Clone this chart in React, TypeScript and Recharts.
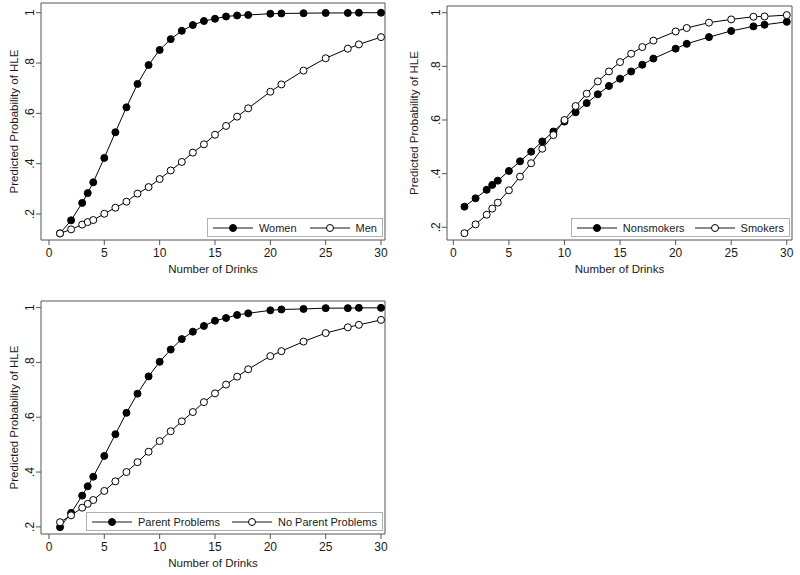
import React from 'react';
import {
  LineChart,
  Line,
  XAxis,
  YAxis,
  ReferenceArea,
  Legend,
  Label,
} from 'recharts';

// x positions shared by all three panels
const drinks = [1, 2, 3, 3.5, 4, 5, 6, 7, 8, 9, 10, 11, 12, 13, 14, 15, 16, 17, 18, 20, 21, 23, 25, 27, 28, 30];

const women = [0.123, 0.175, 0.244, 0.283, 0.326, 0.423, 0.525, 0.624, 0.717, 0.792, 0.852, 0.895, 0.928, 0.951, 0.967, 0.976, 0.985, 0.989, 0.991, 0.996, 0.997, 0.998, 0.999, 0.999, 1.0, 1.0];
const men = [0.123, 0.139, 0.158, 0.168, 0.176, 0.201, 0.225, 0.249, 0.281, 0.307, 0.339, 0.373, 0.407, 0.444, 0.477, 0.515, 0.55, 0.587, 0.62, 0.686, 0.715, 0.77, 0.819, 0.857, 0.874, 0.903];

const nonsmokers = [0.277, 0.308, 0.34, 0.358, 0.374, 0.41, 0.446, 0.482, 0.52, 0.557, 0.594, 0.629, 0.663, 0.696, 0.727, 0.754, 0.781, 0.806, 0.829, 0.866, 0.884, 0.909, 0.932, 0.949, 0.955, 0.966];
const smokers = [0.178, 0.211, 0.247, 0.27, 0.292, 0.338, 0.389, 0.439, 0.493, 0.544, 0.6, 0.652, 0.698, 0.744, 0.781, 0.816, 0.847, 0.872, 0.896, 0.93, 0.943, 0.963, 0.975, 0.985, 0.986, 0.991];

const parentProblems = [0.199, 0.251, 0.314, 0.348, 0.383, 0.459, 0.538, 0.616, 0.686, 0.749, 0.802, 0.847, 0.885, 0.912, 0.933, 0.952, 0.962, 0.973, 0.979, 0.99, 0.993, 0.995, 0.998, 0.998, 0.999, 0.999];
const noParentProblems = [0.217, 0.242, 0.27, 0.284, 0.298, 0.331, 0.366, 0.4, 0.436, 0.474, 0.513, 0.549, 0.585, 0.619, 0.655, 0.687, 0.719, 0.748, 0.775, 0.823, 0.841, 0.876, 0.907, 0.928, 0.937, 0.955];

const xTicks = [0, 5, 10, 15, 20, 25, 30];
const yTicks = [0.2, 0.4, 0.6, 0.8, 1];

const FONT = '"Liberation Sans", Arial, sans-serif';
const TEXT = '#1a1a1a';
const FRAME = '#555';
const DOT_R = 3.5;

const fmtProb = (v: number) => (v === 1 ? '1' : v.toFixed(1).replace(/^0/, ''));

interface Series {
  name: string;
  values: number[];
  filled: boolean;
}

interface PanelProps {
  left: number;
  top: number;
  width: number;
  height: number;
  margin: { top: number; right: number };
  yAxisWidth: number;
  xAxisHeight: number;
  xDomain: [number, number];
  yDomain: [number, number];
  series: Series[];
  itemGap: number;
}

function LegendBox({ series, itemGap }: { series: Series[]; itemGap: number }) {
  return (
    <div
      style={{
        display: 'flex',
        alignItems: 'center',
        height: 17,
        padding: '0 5px',
        border: '1px solid #b0b0b0',
        background: '#fff',
        fontFamily: FONT,
        fontSize: 11,
        color: TEXT,
        whiteSpace: 'nowrap',
      }}
    >
      {series.map((s, i) => (
        <div key={s.name} style={{ display: 'flex', alignItems: 'center', marginLeft: i === 0 ? 0 : itemGap }}>
          <svg width={40} height={12} style={{ display: 'block' }}>
            <line x1={0} y1={6} x2={40} y2={6} stroke="#8a8a8a" strokeWidth={2} />
            <circle cx={20} cy={6} r={DOT_R} fill={s.filled ? '#000' : '#fff'} stroke="#000" strokeWidth={1} />
          </svg>
          <span style={{ marginLeft: 6 }}>{s.name}</span>
        </div>
      ))}
    </div>
  );
}

function Panel(p: PanelProps) {
  const data = drinks.map((x, i) => {
    const row: Record<string, number> = { x };
    p.series.forEach((s, k) => {
      row['s' + k] = s.values[i];
    });
    return row;
  });
  const plotRight = p.width - p.margin.right;
  const plotBottom = p.height - p.xAxisHeight;

  return (
    <div style={{ position: 'absolute', left: p.left, top: p.top, width: p.width, height: p.height }}>
      <LineChart
        width={p.width}
        height={p.height}
        data={data}
        margin={{ top: p.margin.top, right: p.margin.right, bottom: 0, left: 0 }}
        style={{ fontFamily: FONT }}
      >
        <XAxis
          dataKey="x"
          type="number"
          domain={p.xDomain}
          ticks={xTicks}
          allowDataOverflow
          axisLine={false}
          tickSize={5}
          tickMargin={2}
          tickLine={{ stroke: FRAME }}
          height={p.xAxisHeight}
          tick={({ x, y, payload }: any) => (
            <text x={x} y={y} dy={10} textAnchor="middle" fontSize={12} fill={TEXT} fontFamily={FONT}>
              {payload.value}
            </text>
          )}
        >
          <Label
            content={({ viewBox }: any) =>
              viewBox ? (
                <text
                  x={viewBox.x + viewBox.width / 2}
                  y={viewBox.y + 33}
                  textAnchor="middle"
                  fontSize={11.5}
                  fill={TEXT}
                  fontFamily={FONT}
                >
                  Number of Drinks
                </text>
              ) : null
            }
          />
        </XAxis>
        <YAxis
          type="number"
          domain={p.yDomain}
          ticks={yTicks}
          allowDataOverflow
          axisLine={false}
          tickSize={5}
          tickMargin={2}
          tickLine={{ stroke: FRAME }}
          width={p.yAxisWidth}
          tick={({ x, y, payload }: any) => (
            <text
              x={x}
              y={y}
              transform={`rotate(-90, ${x}, ${y})`}
              textAnchor="middle"
              fontSize={12}
              fill={TEXT}
              fontFamily={FONT}
            >
              {fmtProb(payload.value)}
            </text>
          )}
        >
          <Label
            content={({ viewBox }: any) => {
              if (!viewBox) return null;
              const tx = viewBox.x + 18;
              const ty = viewBox.y + viewBox.height / 2;
              return (
                <text
                  x={tx}
                  y={ty}
                  transform={`rotate(-90, ${tx}, ${ty})`}
                  textAnchor="middle"
                  fontSize={11.5}
                  fill={TEXT}
                  fontFamily={FONT}
                >
                  Predicted Probability of HLE
                </text>
              );
            }}
          />
        </YAxis>
        <ReferenceArea
          x1={p.xDomain[0]}
          x2={p.xDomain[1]}
          y1={p.yDomain[0]}
          y2={p.yDomain[1]}
          fill="none"
          fillOpacity={0}
          stroke={FRAME}
          strokeWidth={1}
        />
        {p.series.map((s, k) => (
          <Line
            key={s.name}
            dataKey={'s' + k}
            name={s.name}
            type="linear"
            stroke="#000"
            strokeWidth={1}
            dot={{ r: DOT_R, fill: s.filled ? '#000' : '#fff', stroke: '#000', strokeWidth: 1 }}
            activeDot={false}
            isAnimationActive={false}
          />
        ))}
        <Legend
          layout="horizontal"
          verticalAlign="middle"
          align="center"
          wrapperStyle={{
            left: 'auto',
            top: 'auto',
            width: 'auto',
            right: p.width - plotRight + 2,
            bottom: p.height - plotBottom + 3,
          }}
          content={() => <LegendBox series={p.series} itemGap={p.itemGap} />}
        />
      </LineChart>
    </div>
  );
}

export default function App() {
  return (
    <div style={{ position: 'absolute', left: 0, top: 0, width: 800, height: 575, background: '#fff' }}>
      <Panel
        left={0}
        top={0}
        width={400}
        height={285}
        margin={{ top: 3, right: 15 }}
        yAxisWidth={41}
        xAxisHeight={45}
        xDomain={[-0.72, 30.36]}
        yDomain={[0.0967, 1.0386]}
        itemGap={13}
        series={[
          { name: 'Women', values: women, filled: true },
          { name: 'Men', values: men, filled: false },
        ]}
      />
      <Panel
        left={400}
        top={0}
        width={400}
        height={285}
        margin={{ top: 6, right: 8 }}
        yAxisWidth={47}
        xAxisHeight={45}
        xDomain={[-0.57, 30.47]}
        yDomain={[0.1527, 1.025]}
        itemGap={10}
        series={[
          { name: 'Nonsmokers', values: nonsmokers, filled: true },
          { name: 'Smokers', values: smokers, filled: false },
        ]}
      />
      <Panel
        left={0}
        top={285}
        width={400}
        height={290}
        margin={{ top: 16, right: 15 }}
        yAxisWidth={41}
        xAxisHeight={41}
        xDomain={[-0.72, 30.36]}
        yDomain={[0.174, 1.024]}
        itemGap={12}
        series={[
          { name: 'Parent Problems', values: parentProblems, filled: true },
          { name: 'No Parent Problems', values: noParentProblems, filled: false },
        ]}
      />
    </div>
  );
}
